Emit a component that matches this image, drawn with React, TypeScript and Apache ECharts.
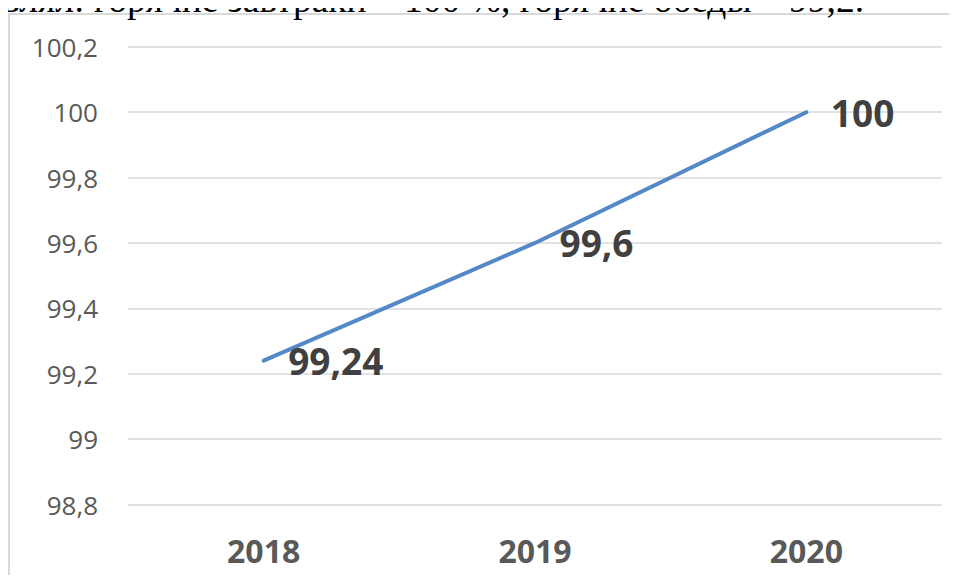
import React, { useEffect, useRef } from "react";
import * as echarts from "echarts";

const categories = ["2018", "2019", "2020"];
const values = [99.24, 99.6, 100];
const yMin = 98.8;
const yMax = 100.2;
const yInterval = 0.2;
const headerText = "влял: горячие завтраки – 100 %, горячие обеды – 99,2.";

const comma = (v: number) => String(Math.round(v * 100) / 100).replace(".", ",");

export default function App() {
  const ref = useRef<HTMLDivElement>(null);
  useEffect(() => {
    if (!ref.current) return;
    const chart = echarts.init(ref.current, null, { renderer: "svg" });
    chart.setOption({
      animation: false,
      backgroundColor: "#ffffff",
      grid: { left: 128, right: 15, top: 46.8, bottom: 78.5, containLabel: false },
      graphic: [
        {
          type: "rect",
          shape: { x: 9, y: 14, width: 1000, height: 620 },
          style: { fill: "none", stroke: "#d9d9d9", lineWidth: 2 },
          z: 0,
        },
        {
          type: "text",
          x: 2,
          y: 18,
          style: {
            text: headerText,
            font: "37.5px 'Liberation Serif'",
            fill: "#000000",
            verticalAlign: "bottom",
            align: "left",
          },
          z: 10,
        },
      ],
      xAxis: {
        type: "category",
        data: categories,
        boundaryGap: true,
        axisLine: { show: false },
        axisTick: { show: false },
        axisLabel: {
          color: "#595959",
          fontFamily: "Open Sans",
          fontWeight: "bold",
          fontSize: 32,
          margin: 30,
        },
      },
      yAxis: {
        type: "value",
        min: yMin,
        max: yMax,
        interval: yInterval,
        axisLine: { show: false },
        axisTick: { show: false },
        splitLine: { lineStyle: { color: "#d9d9d9", width: 1.5 } },
        axisLabel: {
          color: "#595959",
          fontFamily: "Open Sans",
          fontSize: 26,
          margin: 30,
          formatter: (v: number) => comma(v),
        },
      },
      series: [
        {
          type: "line",
          data: values,
          symbol: "circle",
          symbolSize: 1,
          showSymbol: true,
          itemStyle: { color: "rgba(0,0,0,0)" },
          lineStyle: { color: "#5588c6", width: 4, cap: "round" },
          label: {
            show: true,
            position: "right",
            distance: 24,
            color: "#404040",
            fontFamily: "Open Sans",
            fontWeight: "bold",
            fontSize: 37,
            formatter: (p: any) => comma(p.value),
          },
        },
      ],
    });
    return () => chart.dispose();
  }, []);
  return <div ref={ref} style={{ width: 957, height: 583, margin: -8 }} />;
}
